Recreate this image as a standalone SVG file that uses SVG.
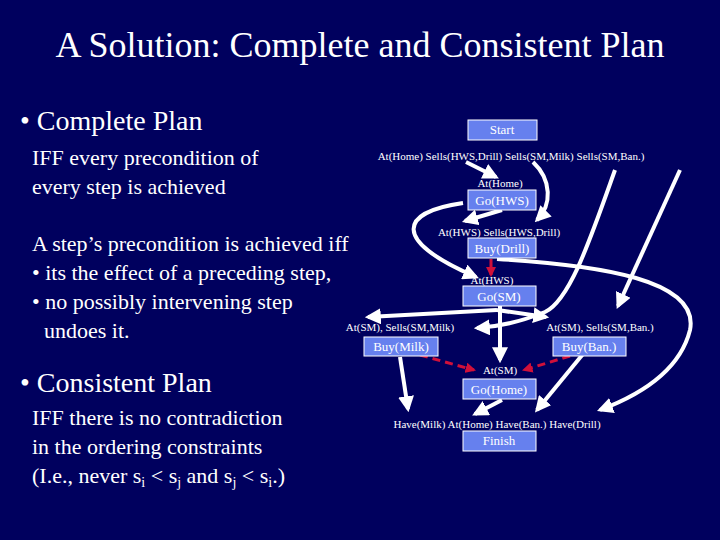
<svg xmlns="http://www.w3.org/2000/svg" width="720" height="540" viewBox="0 0 720 540">
<style>
.t,.s,.bt{font-family:"Liberation Serif","Times New Roman","DejaVu Serif",serif;fill:#fff}
.s{font-size:11px;text-anchor:middle}
.b{fill:#6680ee;stroke:#fff;stroke-width:1}
.bt{font-size:13px;text-anchor:middle}
.w{fill:none;stroke:#fff;stroke-width:4;marker-end:url(#aw)}
.r{fill:none;stroke:#d0103a;stroke-width:3;marker-end:url(#ar)}
</style>
<defs>
<marker id="aw" viewBox="0 0 10 10" refX="8" refY="5" markerWidth="4" markerHeight="4" orient="auto" markerUnits="strokeWidth"><path d="M0,0L10,5L0,10z" fill="#fff"/></marker>
<marker id="ar" viewBox="0 0 10 10" refX="8" refY="5" markerWidth="3.5" markerHeight="3.5" orient="auto" markerUnits="strokeWidth"><path d="M0,0L10,5L0,10z" fill="#d0103a"/></marker>
</defs>
<rect width="720" height="540" fill="#00005e"/>
<text class="t" x="360" y="57" font-size="36" text-anchor="middle">A Solution: Complete and Consistent Plan</text>
<text class="t" x="20" y="130" font-size="28">• Complete Plan</text>
<text class="t" x="32" y="165" font-size="22">IFF every precondition of</text>
<text class="t" x="32" y="194" font-size="22">every step is achieved</text>
<text class="t" x="32" y="251" font-size="22">A step’s precondition is achieved iff</text>
<text class="t" x="32" y="280" font-size="22">• its the effect of a preceding step,</text>
<text class="t" x="32" y="309" font-size="22">• no possibly intervening step</text>
<text class="t" x="44" y="338" font-size="22">undoes it.</text>
<text class="t" x="20" y="392" font-size="28">• Consistent Plan</text>
<text class="t" x="32" y="425" font-size="22">IFF there is no contradiction</text>
<text class="t" x="32" y="454" font-size="22">in the ordering constraints</text>
<text class="t" x="32" y="483" font-size="22">(I.e., never s<tspan font-size="14" dy="4">i</tspan><tspan dy="-4"> &lt; s</tspan><tspan font-size="14" dy="4">j</tspan><tspan dy="-4"> and s</tspan><tspan font-size="14" dy="4">j</tspan><tspan dy="-4"> &lt; s</tspan><tspan font-size="14" dy="4">i</tspan><tspan dy="-4">.)</tspan></text>

<g id="connectors">
<path class="w" d="M466,162 L496,177"/>
<path class="w" d="M533,162 C552,180 552,205 537,220"/>
<path class="w" d="M502,210 L465,221"/>
<path class="w" d="M463,203 C400,212 390,240 476,277"/>
<path class="r" d="M491,259 L491,275"/>
<path class="w" d="M615,170 C590,240 570,300 545,312 C520,322 495,327 477,328"/>
<path class="w" d="M680,170 L618,306"/>
<path class="w" d="M497,259 C600,265 700,280 690,330 C680,370 640,395 600,410"/>
<path class="w" d="M497,310 L368,317"/>
<path class="w" d="M497,310 L546,317"/>
<path class="w" d="M500,306 L500,360"/>
<path class="r" d="M420,355 L474,370" stroke-dasharray="8,5"/>
<path class="r" d="M570,356 L524,370" stroke-dasharray="8,5"/>
<path class="w" d="M400,357 L408,409"/>
<path class="w" d="M502,400 L475,414"/>
<path class="w" d="M583,354 L537,410"/>
</g>

<text class="s" x="511" y="160">At(Home) Sells(HWS,Drill) Sells(SM,Milk) Sells(SM,Ban.)</text>
<text class="s" x="500" y="187">At(Home)</text>
<text class="s" x="499" y="236">At(HWS) Sells(HWS,Drill)</text>
<text class="s" x="492" y="284">At(HWS)</text>
<text class="s" x="400" y="331">At(SM), Sells(SM,Milk)</text>
<text class="s" x="600" y="331">At(SM), Sells(SM,Ban.)</text>
<text class="s" x="500" y="374">At(SM)</text>
<text class="s" x="497" y="428">Have(Milk) At(Home) Have(Ban.) Have(Drill)</text>

<g id="start"><rect class="b" x="468" y="120" width="69" height="20"/><text class="bt" x="502" y="134" font-size="11">Start</text></g>
<g id="gohws"><rect class="b" x="468" y="190" width="68" height="20"/><text class="bt" x="502" y="205">Go(HWS)</text></g>
<g id="buydrill"><rect class="b" x="468" y="238" width="68" height="20"/><text class="bt" x="502" y="253">Buy(Drill)</text></g>
<g id="gosm"><rect class="b" x="463" y="286" width="73" height="20"/><text class="bt" x="499" y="301">Go(SM)</text></g>
<g id="buymilk"><rect class="b" x="364" y="337" width="74" height="19"/><text class="bt" x="401" y="351">Buy(Milk)</text></g>
<g id="buyban"><rect class="b" x="553" y="337" width="73" height="19"/><text class="bt" x="589" y="351">Buy(Ban.)</text></g>
<g id="gohome"><rect class="b" x="463" y="379" width="73" height="20"/><text class="bt" x="499" y="394">Go(Home)</text></g>
<g id="finish"><rect class="b" x="463" y="431" width="73" height="20"/><text class="bt" x="499" y="445" font-size="12">Finish</text></g>
</svg>
